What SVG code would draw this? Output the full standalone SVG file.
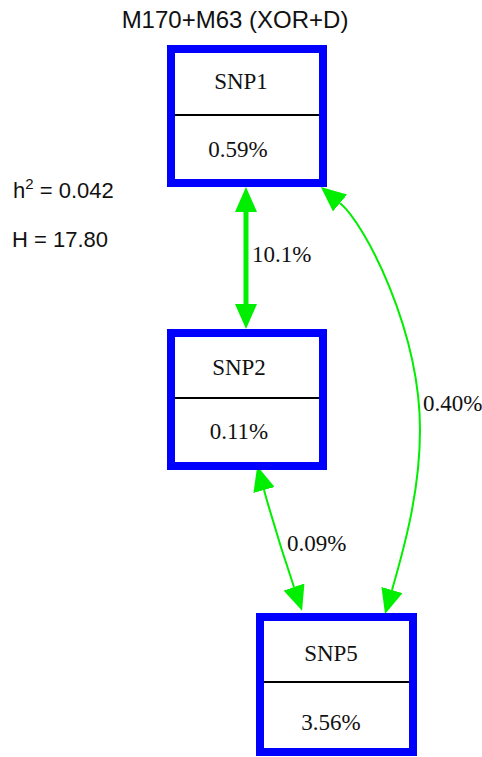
<svg xmlns="http://www.w3.org/2000/svg" width="482" height="757" viewBox="0 0 482 757">
<style>
.box{fill:#fff;stroke:#0000ff;stroke-width:8}
.div{stroke:#000;stroke-width:2}
.nt{font-family:"Liberation Serif",serif;font-size:23px;fill:#111;text-anchor:middle}
.el{font-family:"Liberation Serif",serif;font-size:23px;fill:#111}
.sans{font-family:"Liberation Sans",Arial,sans-serif;fill:#111}
.edge{fill:none;stroke:#00ee00;stroke-width:2}
.thick{stroke-width:5}
</style>
<defs>
<marker id="ah" markerUnits="userSpaceOnUse" markerWidth="26" markerHeight="22" refX="0" refY="11" orient="auto-start-reverse">
<path d="M0,0 L25,11 L0,22 z" fill="#00ee00"/>
</marker>
</defs>
<rect width="482" height="757" fill="#fff"/>
<text class="sans" x="235" y="28" font-size="24" text-anchor="middle">M170+M63 (XOR+D)</text>
<text class="sans" x="13" y="198" font-size="22">h<tspan font-size="15" dy="-9">2</tspan><tspan dy="9"> = 0.042</tspan></text>
<text class="sans" x="12" y="247" font-size="22">H = 17.80</text>
<g id="edges">
<path class="edge thick" d="M246,212 L246,304" marker-start="url(#ah)" marker-end="url(#ah)"/>
<text class="el" x="252" y="262">10.1%</text>
<path class="edge" d="M340,203 C365,224 420,330 420,430 C420,490 405,545 392,590" marker-start="url(#ah)" marker-end="url(#ah)"/>
<text class="el" x="423" y="411">0.40%</text>
<path class="edge" d="M264,490 Q278,540 294,587" marker-start="url(#ah)" marker-end="url(#ah)"/>
<text class="el" x="287" y="551">0.09%</text>
</g>
<g id="snp1">
<rect class="box" x="171" y="49" width="152" height="134"/>
<line class="div" x1="175" y1="115" x2="319" y2="115"/>
<text class="nt" x="241" y="89">SNP1</text>
<text class="nt" x="238" y="157">0.59%</text>
</g>
<g id="snp2">
<rect class="box" x="171" y="333" width="152" height="133"/>
<line class="div" x1="175" y1="398" x2="319" y2="398"/>
<text class="nt" x="239" y="375">SNP2</text>
<text class="nt" x="239" y="439">0.11%</text>
</g>
<g id="snp5">
<rect class="box" x="260" y="617" width="153" height="135"/>
<line class="div" x1="264" y1="682" x2="409" y2="682"/>
<text class="nt" x="331" y="661">SNP5</text>
<text class="nt" x="331" y="730">3.56%</text>
</g>
</svg>
